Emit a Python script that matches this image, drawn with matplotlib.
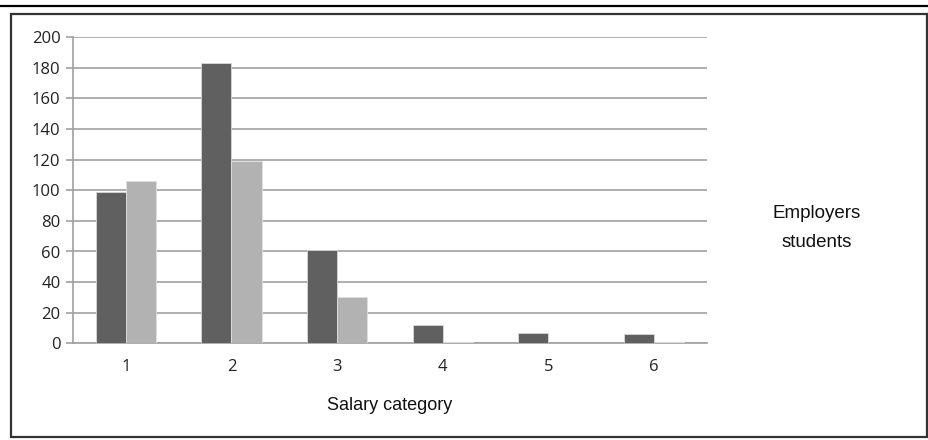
import matplotlib.pyplot as plt
import numpy as np
from matplotlib.patches import Rectangle
from matplotlib.lines import Line2D

# data
categories = ["1", "2", "3", "4", "5", "6"]
employers = [99, 183, 61, 12, 7, 6]
students = [106, 119, 30, 1, 0, 1]
yticks = [0, 20, 40, 60, 80, 100, 120, 140, 160, 180, 200]

fig = plt.figure(figsize=(9.29, 4.40), dpi=100)
ax = fig.add_axes([73 / 929, 96.7 / 440, 634 / 929, 306 / 440])

x = np.arange(len(categories))
w = 1 / 3.5
ax.bar(x - w / 2, employers, w, color="#606060", edgecolor="#d8d8d8", linewidth=0.6, zorder=3)
ax.bar(x + w / 2, students, w, color="#b2b2b2", edgecolor="#e0e0e0", linewidth=0.6, zorder=3)

ax.set_xlim(-0.5, len(categories) - 0.5)
ax.set_ylim(0, 200)
ax.set_yticks(yticks)
ax.set_xticks(x)
ax.set_xticklabels(categories)
ax.yaxis.grid(True, color="#a8a8a8", linewidth=1.3, zorder=0)
ax.set_axisbelow(True)

for s in ["top", "right"]:
    ax.spines[s].set_visible(False)
for s in ["left", "bottom"]:
    ax.spines[s].set_color("#a0a0a0")
    ax.spines[s].set_linewidth(1.2)

ax.tick_params(axis="y", length=5, color="#a0a0a0", width=1.2, pad=4, labelcolor="#222222")
ax.tick_params(axis="x", length=0, pad=11, labelcolor="#222222")
for lab in ax.get_xticklabels() + ax.get_yticklabels():
    lab.set_family("Open Sans")
    lab.set_fontsize(12)

ax.set_xlabel("Salary category", family="Liberation Sans", fontsize=13, labelpad=16,
              color="#111111")

# legend without keys, as text only
fig.text(817 / 929, 1 - 214 / 440, "Employers", ha="center", va="center",
         family="Liberation Sans", fontsize=13.5, color="#111111")
fig.text(817 / 929, 1 - 242 / 440, "students", ha="center", va="center",
         family="Liberation Sans", fontsize=13.5, color="#111111")

# outer frame and top rule
fig.add_artist(Rectangle((11 / 929, 3 / 440), 916 / 929, 423 / 440, transform=fig.transFigure,
                         fill=False, edgecolor="#333333", linewidth=1.6))
fig.add_artist(Line2D([0, 1], [1 - 6 / 440, 1 - 6 / 440], transform=fig.transFigure,
                      color="black", linewidth=1.6))

fig.savefig("out.png", dpi=100)
